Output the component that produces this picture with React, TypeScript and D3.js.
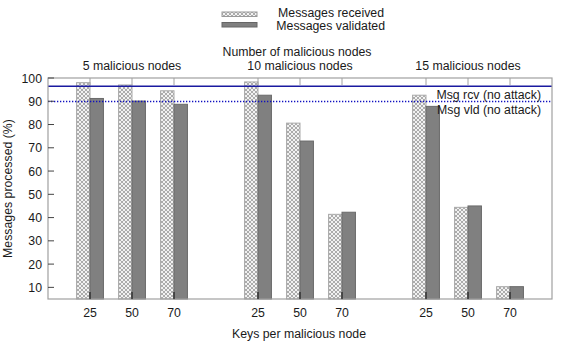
import React from "react";
import * as d3 from "d3";

const groups = ["5 malicious nodes", "10 malicious nodes", "15 malicious nodes"];
const keys = ["25", "50", "70"];
const positions = [1, 2, 3, 5, 6, 7, 9, 10, 11];
const received = [98, 97, 94.5, 98.3, 80.6, 41.4, 92.6, 44.4, 10.3];
const validated = [91.2, 90.1, 88.7, 92.6, 72.9, 42.3, 87.8, 45.0, 10.3];
const rcvBaseline = 96.4;
const vldBaseline = 89.9;
const yTicks = [10, 20, 30, 40, 50, 60, 70, 80, 90, 100];
const groupCenters = [2, 6, 10];

const W = 568, H = 342;
const left = 48, right = 552, top = 78, bottom = 299;
const font = "'Liberation Sans', Arial, sans-serif";
const fs = 12.3;

export default function App() {
  const x = d3.scaleLinear().domain([0, 12]).range([left, right]);
  const y = d3.scaleLinear().domain([5, 100]).range([bottom, top]);
  const bw = x(0.32) - x(0);
  const axisColor = "#a0a0a0";
  return (
    <svg width={W} height={H} style={{ position: "absolute", left: 0, top: 0 }} fontFamily={font}>
      <defs>
        <pattern id="hatch" width="4" height="4" patternUnits="userSpaceOnUse">
          <rect width="4" height="4" fill="#f2f2f2" />
          <path d="M0,0 L4,4 M4,0 L0,4" stroke="#9a9a9a" strokeWidth="0.8" />
        </pattern>
      </defs>
      <rect width={W} height={H} fill="white" />
      {/* legend */}
      <rect x={222} y={12} width={35} height={4.5} fill="url(#hatch)" stroke="#999" strokeWidth={1} />
      <text x={384} y={17} fontSize={fs} textAnchor="end" fill="#1a1a1a">Messages received</text>
      <rect x={222} y={22.5} width={35} height={4.5} fill="#808080" stroke="#666" strokeWidth={1} />
      <text x={385} y={29.5} fontSize={fs} textAnchor="end" fill="#1a1a1a">Messages validated</text>
      {/* titles */}
      <text x={297} y={56} fontSize={fs} textAnchor="middle" fill="#1a1a1a">Number of malicious nodes</text>
      {groups.map((g, i) => (
        <text key={g} x={x(groupCenters[i])} y={69.5} fontSize={fs} textAnchor="middle" fill="#1a1a1a">{g}</text>
      ))}
      {/* bars */}
      {positions.map((p, i) => (
        <g key={i}>
          <rect x={x(p) - bw} y={y(received[i])} width={bw} height={bottom - y(received[i])} fill="url(#hatch)" stroke="#aaa" strokeWidth={1} />
          <rect x={x(p)} y={y(validated[i])} width={bw} height={bottom - y(validated[i])} fill="#808080" stroke="#6a6a6a" strokeWidth={1} />
        </g>
      ))}
      {/* baselines */}
      <line x1={left} x2={right} y1={y(rcvBaseline)} y2={y(rcvBaseline)} stroke="#1a1aa0" strokeWidth={1.5} />
      <line x1={left} x2={right} y1={y(vldBaseline)} y2={y(vldBaseline)} stroke="#1010c0" strokeWidth={1.3} strokeDasharray="1.3,1.7" />
      <text x={541} y={99} fontSize={fs} textAnchor="end" fill="#1a1a1a">Msg rcv (no attack)</text>
      <text x={541} y={113.5} fontSize={fs} textAnchor="end" fill="#1a1a1a">Msg vld (no attack)</text>
      {/* frame */}
      <rect x={left} y={top} width={right - left} height={bottom - top} fill="none" stroke={axisColor} strokeWidth={1.2} />
      {/* y ticks */}
      {yTicks.map((t) => (
        <g key={t}>
          <line x1={left} x2={left + 6} y1={y(t)} y2={y(t)} stroke="#444" strokeWidth={1} />
          <text x={left - 6} y={y(t) + 4.5} fontSize={fs} textAnchor="end" fill="#1a1a1a">{t}</text>
        </g>
      ))}
      {/* x ticks */}
      {positions.map((p, i) => (
        <g key={i}>
          <line x1={x(p)} x2={x(p)} y1={bottom} y2={bottom - 7} stroke="#333" strokeWidth={1.5} />
          <line x1={x(p)} x2={x(p)} y1={top} y2={top + 7} stroke={axisColor} strokeWidth={1} />
          <text x={x(p)} y={317} fontSize={fs} textAnchor="middle" fill="#1a1a1a">{keys[i % 3]}</text>
        </g>
      ))}
      <text x={299} y={338} fontSize={fs} textAnchor="middle" fill="#1a1a1a">Keys per malicious node</text>
      <text transform={`translate(12,${(top + bottom) / 2}) rotate(-90)`} fontSize={fs} textAnchor="middle" fill="#1a1a1a">Messages processed (%)</text>
    </svg>
  );
}
